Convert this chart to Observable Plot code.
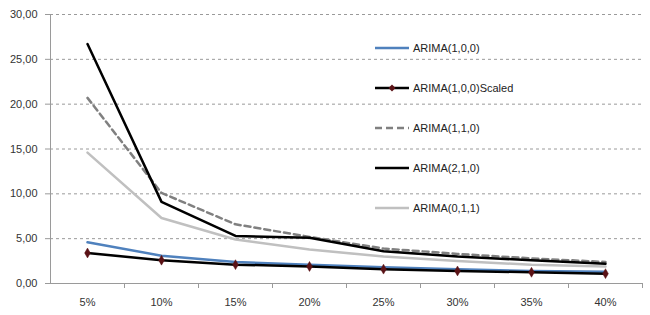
<!DOCTYPE html>
<html>
<head>
<meta charset="utf-8">
<script src="https://cdn.jsdelivr.net/npm/d3@7"></script>
<script src="https://cdn.jsdelivr.net/npm/@observablehq/plot@0.6"></script>
<style>
  html, body { margin: 0; padding: 0; background: #fff; }
  #wrap { position: relative; width: 650px; height: 315px; font-family: "Liberation Sans", Arial, sans-serif; }
  #legend { position: absolute; left: 375px; top: 28px; }
  .item { height: 40px; display: flex; align-items: center; font-size: 11px; color: #222; }
  .item svg { margin-right: 4px; }
</style>
</head>
<body>
<div id="wrap"><div id="chart"></div><div id="legend"></div></div>
<script>
const categories = ["5%", "10%", "15%", "20%", "25%", "30%", "35%", "40%"];
const seriesNames = ["ARIMA(1,0,0)", "ARIMA(1,0,0)Scaled", "ARIMA(1,1,0)", "ARIMA(2,1,0)", "ARIMA(0,1,1)"];
const arima100 = [4.6, 3.1, 2.4, 2.1, 1.8, 1.6, 1.4, 1.3];
const arima100Scaled = [3.4, 2.6, 2.1, 1.9, 1.6, 1.4, 1.25, 1.1];
const arima110 = [20.7, 10.1, 6.6, 5.2, 3.9, 3.3, 2.8, 2.4];
const arima210 = [26.7, 9.1, 5.3, 5.1, 3.6, 3.0, 2.6, 2.2];
const arima011 = [14.6, 7.3, 4.9, 3.8, 3.0, 2.5, 2.1, 1.9];
const yTicks = [0, 5, 10, 15, 20, 25, 30];

const values = [arima100, arima100Scaled, arima110, arima210, arima011];
const styles = [
  {stroke: "#4F81BD", strokeWidth: 2.5},
  {stroke: "#000000", strokeWidth: 2.5},
  {stroke: "#808080", strokeWidth: 2.5, strokeDasharray: "6,4"},
  {stroke: "#000000", strokeWidth: 2.5},
  {stroke: "#C0C0C0", strokeWidth: 2.5}
];

const rows = (vals) => vals.map((v, i) => ({x: i + 1, y: v}));
const idx = categories.map((c, i) => i + 1);
const bounds = categories.map((c, i) => i + 1.5);

const fmt = d => d.toFixed(2).replace(".", ",");

const plot = Plot.plot({
  width: 650,
  height: 315,
  marginLeft: 50,
  marginRight: 8,
  marginTop: 14,
  marginBottom: 32,
  style: {fontFamily: "Liberation Sans, Arial, sans-serif", fontSize: "11px", color: "#333", background: "#fff"},
  x: {type: "linear", domain: [0.5, 8.5]},
  y: {domain: [0, 30]},
  marks: [
    Plot.gridY(yTicks.filter(d => d > 0), {stroke: "#9a9a9a", strokeOpacity: 1, strokeDasharray: "3,3", strokeWidth: 1}),
    Plot.ruleY([0], {stroke: "#9a9a9a"}),
    Plot.ruleX([0.5], {stroke: "#9a9a9a"}),
    Plot.axisY({ticks: yTicks, tickFormat: fmt, tickSize: 5, tickPadding: 8, stroke: "#9a9a9a", fill: "#333", label: null}),
    Plot.axisX({ticks: bounds, tickFormat: () => "", tickSize: 5, stroke: "#9a9a9a", label: null}),
    Plot.axisX({ticks: idx, tickFormat: d => categories[d - 1], tickSize: 0, tickPadding: 15, fill: "#333", label: null}),
    ...values.map((vals, k) => Plot.line(rows(vals), {x: "x", y: "y", ...styles[k], strokeLinejoin: "round"})),
    Plot.dot(rows(arima100Scaled), {x: "x", y: "y", symbol: "diamond", r: 3, fill: "#5a1216", stroke: "#5a1216", strokeWidth: 0.5})
  ]
});
document.getElementById("chart").appendChild(plot);

// legend
const legend = document.getElementById("legend");
seriesNames.forEach((name, k) => {
  const item = document.createElement("div");
  item.className = "item";
  const s = styles[k];
  let svg = `<svg width="34" height="10"><line x1="0" y1="5" x2="34" y2="5" stroke="${s.stroke}" stroke-width="${s.strokeWidth}" ${s.strokeDasharray ? `stroke-dasharray="7,4"` : ""}/>`;
  if (k === 1) svg += `<path d="M17,1.5 L20.5,5 L17,8.5 L13.5,5 Z" fill="#5a1216"/>`;
  svg += `</svg>`;
  item.innerHTML = svg + `<span>${name}</span>`;
  legend.appendChild(item);
});
</script>
</body>
</html>
